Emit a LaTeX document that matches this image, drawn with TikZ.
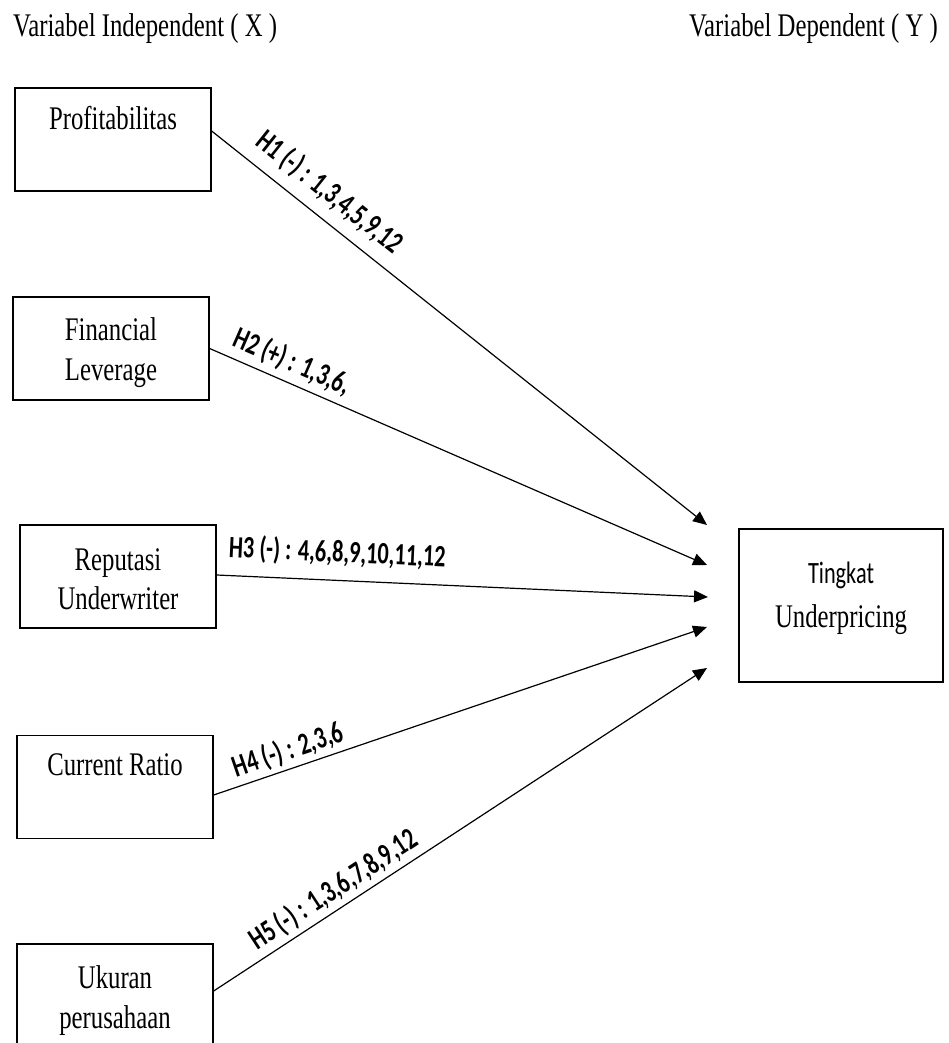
\documentclass[tikz,border=0pt]{standalone}
\usepackage{fontspec}
\setmainfont{Liberation Serif}[FakeStretch=0.75]
\newfontfamily\calfont{Carlito}[FakeStretch=0.72]
\usetikzlibrary{arrows.meta}
\begin{document}
\begin{tikzpicture}[x=1pt,y=-1pt,
  varbox/.style={draw, line width=1.3pt, minimum width=196pt, minimum height=103pt, inner sep=0pt},
  boxtxt/.style={anchor=base, inner sep=0pt, font=\fontsize{33}{40}\selectfont},
  titletxt/.style={inner sep=0pt, font=\fontsize{33}{40}\selectfont},
  conn/.style={line width=1.2pt, -{Triangle[length=14pt,width=12pt]}},
  lbl/.style={sloped, anchor=south, inner xsep=0pt, font=\calfont\bfseries\fontsize{31}{37}\selectfont}]
\useasboundingbox (0,0) rectangle (949,1043);
% titles
\node[titletxt, anchor=base west] (tx) at (13,37) {Variabel Independent ( X )};
\node[titletxt, anchor=base east] (ty) at (938,37) {Variabel Dependent ( Y )};
% boxes
\node[varbox] (p1) at (113,139.5) {};
\node[varbox] (p2) at (111,348.5) {};
\node[varbox] (p3) at (118,576.5) {};
\node[varbox] (p4) at (115,787) {};
\node[varbox] (p5) at (115,995.5) {};
\node[varbox, minimum width=204pt, minimum height=153pt] (y) at (841,605.5) {};
% box texts
\node[boxtxt] (p1a) at (113,130) {Profitabilitas};
\node[boxtxt] (p2a) at (111,340) {Financial};
\node[boxtxt] (p2b) at (111,380) {Leverage};
\node[boxtxt] (p3a) at (118,570) {Reputasi};
\node[boxtxt] (p3b) at (118,609) {Underwriter};
\node[boxtxt] (p4a) at (115,775) {Current Ratio};
\node[boxtxt] (p5a) at (115,988) {Ukuran};
\node[boxtxt] (p5b) at (115,1028) {perusahaan};
\node[boxtxt, font=\calfont\fontsize{31}{37}\selectfont] (ya) at (841,583) {Tingkat};
\node[boxtxt] (yb) at (841,627) {Underpricing};
% arrow ends
\coordinate (t1) at (707,525);
\coordinate (t2) at (707,565);
\coordinate (t3) at (708,597);
\coordinate (t4) at (707,627);
\coordinate (t5) at (707,668);
% connectors
\draw[conn] ([yshift=8.5pt]p1.east) -- node[lbl, pos=0.206, inner ysep=11pt] (l1) {H1 (-) : 1,3,4,5,9,12} (t1);
\draw[conn] (p2.east) -- node[lbl, pos=0.149, inner ysep=6pt] (l2) {H2 (+) : 1,3,6,} (t2);
\draw[conn] ([yshift=1.5pt]p3.east) -- node[lbl, pos=0.243, inner ysep=13pt] (l3) {H3 (-) : 4,6,8,9,10,11,12} (t3);
\draw[conn] ([yshift=-8pt]p4.east) -- node[lbl, pos=0.163, inner ysep=4pt] (l4) {H4 (-) : 2,3,6} (t4);
\draw[conn] ([yshift=4.5pt]p5.east) -- node[lbl, pos=0.264, inner ysep=4.5pt] (l5) {H5 (-) : 1,3,6,7,8,9,12} (t5);
\end{tikzpicture}
\end{document}
